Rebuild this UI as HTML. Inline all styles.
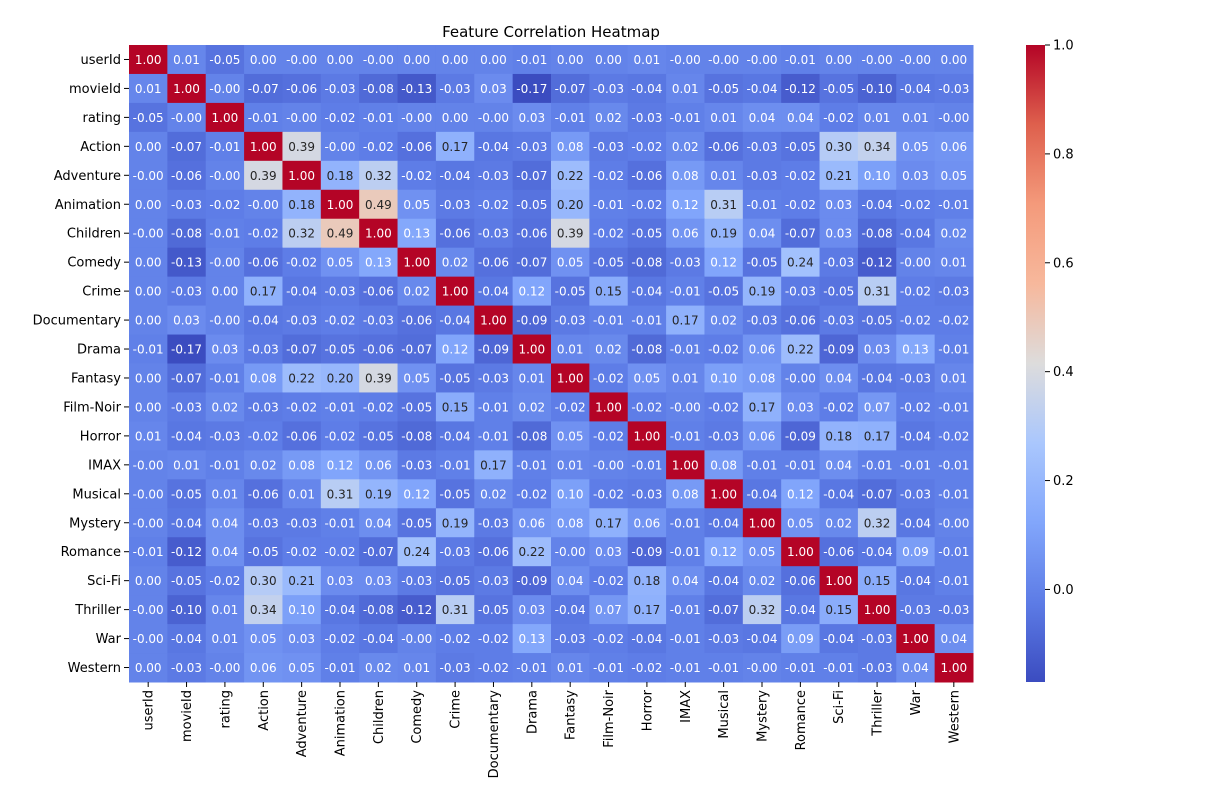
<!DOCTYPE html>
<html><head><meta charset="utf-8"><style>
body{margin:0;background:#fff;font-family:"Liberation Sans","DejaVu Sans",sans-serif;}
svg text{font-family:"DejaVu Sans","Liberation Sans",sans-serif;}
</style></head><body>
<svg id="chart" width="1212" height="802" xmlns="http://www.w3.org/2000/svg">
<text x="551" y="37" text-anchor="middle" font-size="15" fill="#000">Feature Correlation Heatmap</text>
<g id="cells"></g><g id="ylab"></g><g id="xlab"></g><g id="cbar"></g>
</svg>
<script>
const features=["userId","movieId","rating","Action","Adventure","Animation","Children","Comedy","Crime","Documentary","Drama","Fantasy","Film-Noir","Horror","IMAX","Musical","Mystery","Romance","Sci-Fi","Thriller","War","Western"];
const rowUserId=[1.00,0.01,-0.05,0.00,-0.00,0.00,-0.00,0.00,0.00,0.00,-0.01,0.00,0.00,0.01,-0.00,-0.00,-0.00,-0.01,0.00,-0.00,-0.00,0.00];
const rowMovieId=[0.01,1.00,-0.00,-0.07,-0.06,-0.03,-0.08,-0.13,-0.03,0.03,-0.17,-0.07,-0.03,-0.04,0.01,-0.05,-0.04,-0.12,-0.05,-0.10,-0.04,-0.03];
const rowRating=[-0.05,-0.00,1.00,-0.01,-0.00,-0.02,-0.01,-0.00,0.00,-0.00,0.03,-0.01,0.02,-0.03,-0.01,0.01,0.04,0.04,-0.02,0.01,0.01,-0.00];
const rowAction=[0.00,-0.07,-0.01,1.00,0.39,-0.00,-0.02,-0.06,0.17,-0.04,-0.03,0.08,-0.03,-0.02,0.02,-0.06,-0.03,-0.05,0.30,0.34,0.05,0.06];
const rowAdventure=[-0.00,-0.06,-0.00,0.39,1.00,0.18,0.32,-0.02,-0.04,-0.03,-0.07,0.22,-0.02,-0.06,0.08,0.01,-0.03,-0.02,0.21,0.10,0.03,0.05];
const rowAnimation=[0.00,-0.03,-0.02,-0.00,0.18,1.00,0.49,0.05,-0.03,-0.02,-0.05,0.20,-0.01,-0.02,0.12,0.31,-0.01,-0.02,0.03,-0.04,-0.02,-0.01];
const rowChildren=[-0.00,-0.08,-0.01,-0.02,0.32,0.49,1.00,0.13,-0.06,-0.03,-0.06,0.39,-0.02,-0.05,0.06,0.19,0.04,-0.07,0.03,-0.08,-0.04,0.02];
const rowComedy=[0.00,-0.13,-0.00,-0.06,-0.02,0.05,0.13,1.00,0.02,-0.06,-0.07,0.05,-0.05,-0.08,-0.03,0.12,-0.05,0.24,-0.03,-0.12,-0.00,0.01];
const rowCrime=[0.00,-0.03,0.00,0.17,-0.04,-0.03,-0.06,0.02,1.00,-0.04,0.12,-0.05,0.15,-0.04,-0.01,-0.05,0.19,-0.03,-0.05,0.31,-0.02,-0.03];
const rowDocumentary=[0.00,0.03,-0.00,-0.04,-0.03,-0.02,-0.03,-0.06,-0.04,1.00,-0.09,-0.03,-0.01,-0.01,0.17,0.02,-0.03,-0.06,-0.03,-0.05,-0.02,-0.02];
const rowDrama=[-0.01,-0.17,0.03,-0.03,-0.07,-0.05,-0.06,-0.07,0.12,-0.09,1.00,0.01,0.02,-0.08,-0.01,-0.02,0.06,0.22,-0.09,0.03,0.13,-0.01];
const rowFantasy=[0.00,-0.07,-0.01,0.08,0.22,0.20,0.39,0.05,-0.05,-0.03,0.01,1.00,-0.02,0.05,0.01,0.10,0.08,-0.00,0.04,-0.04,-0.03,0.01];
const rowFilmNoir=[0.00,-0.03,0.02,-0.03,-0.02,-0.01,-0.02,-0.05,0.15,-0.01,0.02,-0.02,1.00,-0.02,-0.00,-0.02,0.17,0.03,-0.02,0.07,-0.02,-0.01];
const rowHorror=[0.01,-0.04,-0.03,-0.02,-0.06,-0.02,-0.05,-0.08,-0.04,-0.01,-0.08,0.05,-0.02,1.00,-0.01,-0.03,0.06,-0.09,0.18,0.17,-0.04,-0.02];
const rowIMAX=[-0.00,0.01,-0.01,0.02,0.08,0.12,0.06,-0.03,-0.01,0.17,-0.01,0.01,-0.00,-0.01,1.00,0.08,-0.01,-0.01,0.04,-0.01,-0.01,-0.01];
const rowMusical=[-0.00,-0.05,0.01,-0.06,0.01,0.31,0.19,0.12,-0.05,0.02,-0.02,0.10,-0.02,-0.03,0.08,1.00,-0.04,0.12,-0.04,-0.07,-0.03,-0.01];
const rowMystery=[-0.00,-0.04,0.04,-0.03,-0.03,-0.01,0.04,-0.05,0.19,-0.03,0.06,0.08,0.17,0.06,-0.01,-0.04,1.00,0.05,0.02,0.32,-0.04,-0.00];
const rowRomance=[-0.01,-0.12,0.04,-0.05,-0.02,-0.02,-0.07,0.24,-0.03,-0.06,0.22,-0.00,0.03,-0.09,-0.01,0.12,0.05,1.00,-0.06,-0.04,0.09,-0.01];
const rowSciFi=[0.00,-0.05,-0.02,0.30,0.21,0.03,0.03,-0.03,-0.05,-0.03,-0.09,0.04,-0.02,0.18,0.04,-0.04,0.02,-0.06,1.00,0.15,-0.04,-0.01];
const rowThriller=[-0.00,-0.10,0.01,0.34,0.10,-0.04,-0.08,-0.12,0.31,-0.05,0.03,-0.04,0.07,0.17,-0.01,-0.07,0.32,-0.04,0.15,1.00,-0.03,-0.03];
const rowWar=[-0.00,-0.04,0.01,0.05,0.03,-0.02,-0.04,-0.00,-0.02,-0.02,0.13,-0.03,-0.02,-0.04,-0.01,-0.03,-0.04,0.09,-0.04,-0.03,1.00,0.04];
const rowWestern=[0.00,-0.03,-0.00,0.06,0.05,-0.01,0.02,0.01,-0.03,-0.02,-0.01,0.01,-0.01,-0.02,-0.01,-0.01,-0.00,-0.01,-0.01,-0.03,0.04,1.00];
const matrix=[rowUserId,rowMovieId,rowRating,rowAction,rowAdventure,rowAnimation,rowChildren,rowComedy,rowCrime,rowDocumentary,rowDrama,rowFantasy,rowFilmNoir,rowHorror,rowIMAX,rowMusical,rowMystery,rowRomance,rowSciFi,rowThriller,rowWar,rowWestern];
const colorbarTicks=[0.0,0.2,0.4,0.6,0.8,1.0];
const vmin=-0.17, vmax=1.0;

const NS="http://www.w3.org/2000/svg";
const X0=129,X1=973,Y0=45,Y1=682;
const n=features.length, cw=(X1-X0)/n, ch=(Y1-Y0)/n;
const xPos=i=>X0+i*cw, yPos=i=>Y0+i*ch;
const cmap=[[0,[59,76,192]],[0.125,[93,124,230]],[0.25,[130,166,251]],[0.375,[170,199,253]],[0.5,[221,220,220]],[0.625,[247,184,156]],[0.75,[244,154,123]],[0.875,[222,96,77]],[1,[180,4,38]]];
function color(v){let t=(v-vmin)/(vmax-vmin);t=Math.max(0,Math.min(1,t));
 for(let k=1;k<cmap.length;k++){if(t<=cmap[k][0]){const a=cmap[k-1],b=cmap[k],f=(t-a[0])/(b[0]-a[0]);return a[1].map((c,j)=>Math.round(c+(b[1][j]-c)*f));}}return cmap[8][1];}
function lum(c){const l=c.map(x=>{x/=255;return x<=0.03928?x/12.92:Math.pow((x+0.055)/1.055,2.4)});return 0.2126*l[0]+0.7152*l[1]+0.0722*l[2];}
function fmt(v){const s=Math.abs(v).toFixed(2);return (v<0||Object.is(v,-0))?'-'+s:s;}
function mk(tag,attrs,parent,text){const e=document.createElementNS(NS,tag);for(const k in attrs)e.setAttribute(k,attrs[k]);if(text!==undefined)e.textContent=text;parent.appendChild(e);return e;}
const cells=document.getElementById('cells');
matrix.forEach((row,r)=>row.forEach((v,c)=>{
 const col=color(v);
 const rect=mk('rect',{x:xPos(c),y:yPos(r),width:cw+0.5,height:ch+0.5,fill:`rgb(${col})`},cells);
 
 
 const t=mk('text',{x:xPos(c)+cw/2,y:yPos(r)+ch/2+4.5,'text-anchor':'middle','font-size':12,fill:lum(col)>0.408?'#262626':'#ffffff'},cells,fmt(v));
 
 
}));
const yl=document.getElementById('ylab'),xl=document.getElementById('xlab');
features.forEach((f,i)=>{
 const y=yPos(i)+ch/2;
 mk('line',{x1:X0-5,x2:X0,y1:y,y2:y,stroke:'#000'},yl);
 const t=mk('text',{x:X0-8,y:y+4.5,'text-anchor':'end','font-size':13,fill:'#000'},yl,f);
 
 
 const x=xPos(i)+cw/2;
 mk('line',{x1:x,x2:x,y1:Y1,y2:Y1+5,stroke:'#000'},xl);
 const u=mk('text',{x:0,y:0,'text-anchor':'end','font-size':13,fill:'#000',transform:`translate(${x+4.5},${Y1+8}) rotate(-90)`},xl,f);
 
 
});
const cb=document.getElementById('cbar');
const CX=1026,CW=19;
const cy=v=>Y1-(v-vmin)/(vmax-vmin)*(Y1-Y0);
const defs=mk('defs',{},cb);
const g=mk('linearGradient',{id:'cg',x1:0,y1:1,x2:0,y2:0},defs);
cmap.forEach(s=>mk('stop',{offset:s[0],'stop-color':`rgb(${s[1]})`},g));
const bar=mk('rect',{x:CX,y:Y0,width:CW,height:Y1-Y0,fill:'url(#cg)'},cb);


colorbarTicks.forEach(v=>{
 const y=cy(v);
 mk('line',{x1:CX+CW,x2:CX+CW+5,y1:y,y2:y,stroke:'#000'},cb);
 const t=mk('text',{x:CX+CW+8,y:y+4.5,'font-size':13,fill:'#000'},cb,v.toFixed(1));
 
 
});
</script>
</body></html>
